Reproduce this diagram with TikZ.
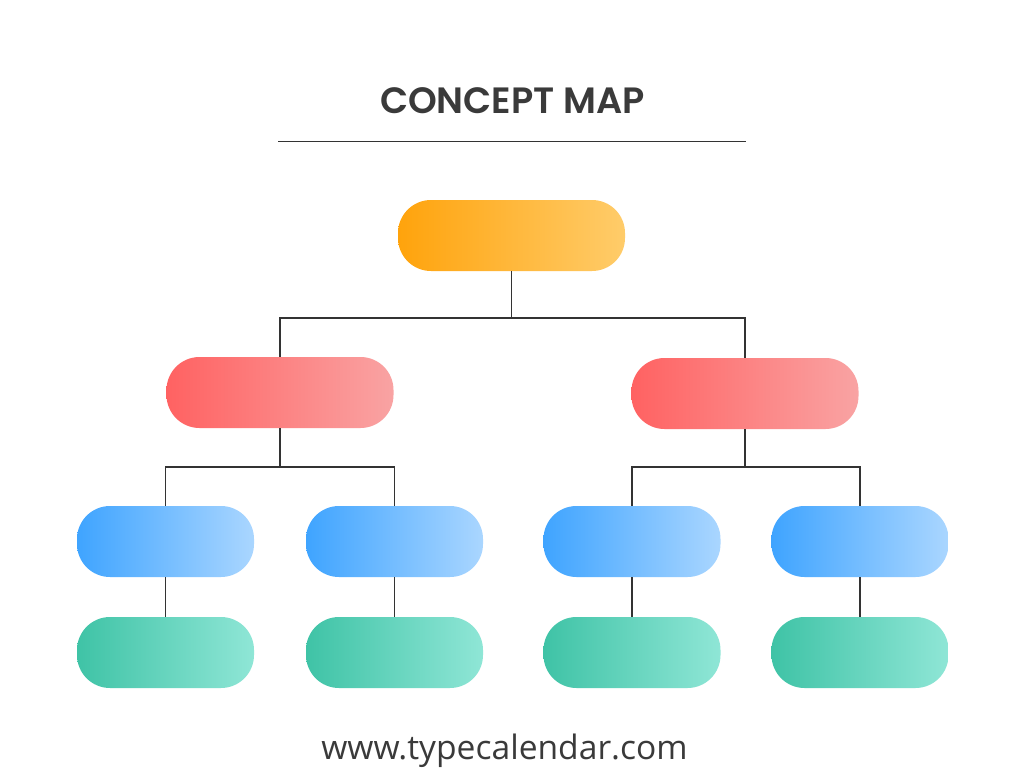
\documentclass[tikz,border=0pt]{standalone}
\usepackage{fontspec}
\newfontfamily\titlefont{Poppins}[BoldFont={* SemiBold}]
\newfontfamily\footfont{Open Sans}
\definecolor{txt}{HTML}{3A3A3A}
\definecolor{lnc}{HTML}{333333}
\definecolor{orA}{HTML}{FFA30C}
\definecolor{orB}{HTML}{FFCC6A}
\definecolor{rdA}{HTML}{FF6262}
\definecolor{rdB}{HTML}{F9A3A3}
\definecolor{blA}{HTML}{3FA4FF}
\definecolor{blB}{HTML}{AAD6FF}
\definecolor{gnA}{HTML}{3FC3A6}
\definecolor{gnB}{HTML}{8FE6D6}
\tikzset{
  pill/.style={draw=none, rounded corners=33pt, inner sep=0pt, minimum height=71pt},
  toppill/.style={pill, minimum width=227pt, left color=orA, right color=orB},
  redpill/.style={pill, minimum width=227pt, left color=rdA, right color=rdB},
  bluepill/.style={pill, minimum width=177pt, left color=blA, right color=blB},
  greenpill/.style={pill, minimum width=177pt, left color=gnA, right color=gnB},
  link/.style={draw=lnc, line width=1.1pt}
}
\begin{document}
\begin{tikzpicture}[x=1pt, y=-1pt]
\useasboundingbox[fill=white] (0,0) rectangle (1024,768);
% title
\node[anchor=base, text=txt, font=\titlefont\bfseries\fontsize{36.6}{40}\selectfont, inner sep=0pt] (title) at (512.5,113.3) {CONCEPT MAP};
\coordinate (rl) at (278,141);
\coordinate (rr) at (746,141);
\draw[draw=lnc, line width=1pt] (rl) -- (rr);
% nodes
\node[toppill] (top) at (511.5,235.5) {};
\node[redpill] (r1) at (280,392.5) {};
\node[redpill] (r2) at (745,393.5) {};
\node[bluepill] (b1) at (165.5,541.5) {};
\node[bluepill] (b2) at (394.5,541.5) {};
\node[bluepill] (b3) at (632,541.5) {};
\node[bluepill] (b4) at (860,541.5) {};
\node[greenpill] (g1) at (165.5,652.5) {};
\node[greenpill] (g2) at (394.5,652.5) {};
\node[greenpill] (g3) at (632,652.5) {};
\node[greenpill] (g4) at (860,652.5) {};
% connectors
\coordinate (j0) at (top.south |- 0,318);
\coordinate (j1) at (r1.south |- 0,467);
\coordinate (j2) at (r2.south |- 0,467);
\draw[link] (top.south) -- (j0);
\draw[link] (j0) -| (r1.north);
\draw[link] (j0) -| (r2.north);
\draw[link] (r1.south) -- (j1);
\draw[link] (j1) -| (b1.north);
\draw[link] (j1) -| (b2.north);
\draw[link] (r2.south) -- (j2);
\draw[link] (j2) -| (b3.north);
\draw[link] (j2) -| (b4.north);
\draw[link] (b1.south) -- (g1.north);
\draw[link] (b2.south) -- (g2.north);
\draw[link] (b3.south) -- (g3.north);
\draw[link] (b4.south) -- (g4.north);
% footer
\node[anchor=base, text=txt, font=\footfont\fontsize{33.6}{38}\selectfont, inner sep=0pt] (foot) at (504.5,759) {www.typecalendar.com};
\end{tikzpicture}
\end{document}
